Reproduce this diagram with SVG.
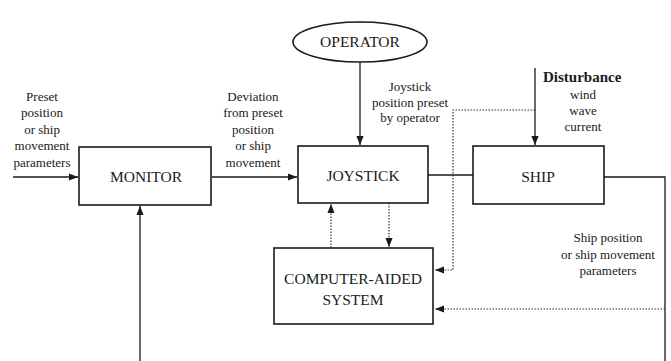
<svg xmlns="http://www.w3.org/2000/svg" width="671" height="361" viewBox="0 0 671 361">
<defs>
<marker id="ah" viewBox="0 0 10 10" refX="10" refY="5" markerWidth="9" markerHeight="9" markerUnits="userSpaceOnUse" orient="auto"><path d="M0,1 L10,5 L0,9 Z" fill="#1a1a1a"/></marker>
</defs>
<style>
.box{fill:#fff;stroke:#1a1a1a;stroke-width:1.6}
.ln{fill:none;stroke:#1a1a1a;stroke-width:1.3}
.dt{fill:none;stroke:#333;stroke-width:1.2;stroke-dasharray:1.5 1.5}
.lbl{font-family:"Liberation Serif",serif;font-size:15.5px;fill:#1a1a1a;text-anchor:middle}
.sm{font-family:"Liberation Serif",serif;font-size:13px;fill:#1a1a1a;text-anchor:middle}
.bd{font-family:"Liberation Serif",serif;font-size:15px;font-weight:bold;fill:#1a1a1a}
</style>
<rect width="671" height="361" fill="#fff"/>
<g id="connectors">
<line class="ln" x1="13" y1="177" x2="78" y2="177" marker-end="url(#ah)"/>
<line class="ln" x1="212" y1="177" x2="297" y2="177" marker-end="url(#ah)"/>
<line class="ln" x1="360" y1="62" x2="360" y2="145" marker-end="url(#ah)"/>
<line class="ln" x1="428" y1="175" x2="473" y2="175"/>
<line class="ln" x1="535" y1="68" x2="535" y2="145" marker-end="url(#ah)"/>
<polyline class="ln" points="604,177 665,177 665,361"/>
<line class="ln" x1="140" y1="361" x2="140" y2="206" marker-end="url(#ah)"/>
<polyline class="dt" points="535,110 453,110 453,270 435,270" marker-end="url(#ah)"/>
<line class="dt" x1="331" y1="248" x2="331" y2="204" marker-end="url(#ah)"/>
<line class="dt" x1="389" y1="203" x2="389" y2="247" marker-end="url(#ah)"/>
<line class="dt" x1="665" y1="309" x2="435" y2="309" marker-end="url(#ah)"/>
</g>
<g id="operator">
<ellipse class="box" cx="360" cy="42" rx="67" ry="20"/>
<text class="lbl" x="360" y="47">OPERATOR</text>
</g>
<g id="monitor">
<rect class="box" x="79" y="147" width="132" height="58"/>
<text class="lbl" x="146" y="182">MONITOR</text>
</g>
<g id="joystick">
<rect class="box" x="298" y="146" width="130" height="57"/>
<text class="lbl" x="363" y="181">JOYSTICK</text>
</g>
<g id="ship">
<rect class="box" x="473" y="146" width="131" height="58"/>
<text class="lbl" x="538" y="182">SHIP</text>
</g>
<g id="computer-aided-system">
<rect class="box" x="274" y="248" width="159" height="76"/>
<text class="lbl" x="353" y="284">COMPUTER-AIDED</text>
<text class="lbl" x="353" y="305">SYSTEM</text>
</g>
<g id="labels">
<text class="sm" x="42" y="101">Preset</text>
<text class="sm" x="42" y="117">position</text>
<text class="sm" x="42" y="134">or ship</text>
<text class="sm" x="42" y="150">movement</text>
<text class="sm" x="42" y="167">parameters</text>
<text class="sm" x="253" y="101">Deviation</text>
<text class="sm" x="253" y="117">from preset</text>
<text class="sm" x="253" y="134">position</text>
<text class="sm" x="253" y="150">or ship</text>
<text class="sm" x="253" y="167">movement</text>
<text class="sm" x="410" y="91">Joystick</text>
<text class="sm" x="410" y="107">position preset</text>
<text class="sm" x="410" y="122">by operator</text>
<text class="bd" x="543" y="82">Disturbance</text>
<text class="sm" x="583" y="99">wind</text>
<text class="sm" x="583" y="115">wave</text>
<text class="sm" x="583" y="131">current</text>
<text class="sm" x="608" y="242">Ship position</text>
<text class="sm" x="608" y="259">or ship movement</text>
<text class="sm" x="608" y="275">parameters</text>
</g>
</svg>
